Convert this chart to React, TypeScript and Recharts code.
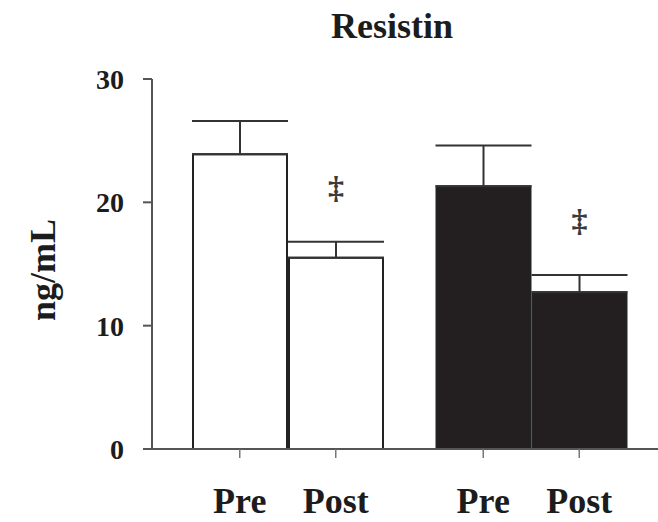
import React from 'react';
import {
  BarChart,
  Bar,
  XAxis,
  YAxis,
  ErrorBar,
  Cell,
  LabelList,
  Label,
} from 'recharts';

const groups = ['groupA', 'groupB'];
const phases = ['Pre', 'Post'];
const preMean = [23.9, 21.3];
const postMean = [15.5, 12.7];
const preSem = [2.7, 3.3];
const postSem = [1.3, 1.4];
const postMarks = ['‡', '‡'];
const groupFills = ['#ffffff', '#231f20'];
const yTicks = [0, 10, 20, 30];

const W = 658;
const H = 522;
const X_AXIS_H = 30;
const MARGIN = { top: 79, right: 0, bottom: 43, left: 0 };
const BAR = 94;
const GAP = 2;
const FONT = '"Liberation Serif", "Times New Roman", serif';
const INK = '#1c1c1c';

const data = groups.map((g, i) => ({
  group: g,
  pre: preMean[i],
  post: postMean[i],
  preErr: [0, preSem[i]],
  postErr: [0, postSem[i]],
}));

const PhaseTick = ({ x }: any) => {
  const off = (BAR + GAP) / 2;
  const baseY = H - MARGIN.bottom - X_AXIS_H;
  return (
    <g>
      {phases.map((p, k) => {
        const cx = x + (k === 0 ? -off : off);
        return (
          <g key={p}>
            <line x1={cx} y1={baseY} x2={cx} y2={baseY + 9} stroke="#777" strokeWidth={1.5} />
            <text
              x={cx}
              y={baseY + 64}
              textAnchor="middle"
              fontFamily={FONT}
              fontWeight="bold"
              fontSize={36}
              fill={INK}
            >
              {p}
            </text>
          </g>
        );
      })}
    </g>
  );
};

const SigMark = ({ x, y, width, height, value, index }: any) => {
  const pxPerUnit = height / value;
  const errTop = y - postSem[index] * pxPerUnit;
  return (
    <text
      x={x + width / 2}
      y={errTop - 55}
      dy={11}
      textAnchor="middle"
      fontFamily={FONT}
      fontWeight="bold"
      fontSize={32}
      fill="#3a3a3a"
    >
      {postMarks[index]}
    </text>
  );
};

const YTitle = ({ viewBox }: any) => {
  const cx = 43;
  const cy = viewBox.y + viewBox.height / 2 + 6;
  return (
    <text
      x={cx}
      y={cy}
      transform={`rotate(-90, ${cx}, ${cy})`}
      textAnchor="middle"
      dominantBaseline="central"
      fontFamily={FONT}
      fontWeight="bold"
      fontSize={36}
      fill={INK}
    >
      ng/mL
    </text>
  );
};

export default function App() {
  return (
    <div style={{ position: 'absolute', left: 0, top: 0, width: W, height: H, background: '#fff' }}>
      <div
        style={{
          position: 'absolute',
          left: 392,
          top: 6,
          transform: 'translateX(-50%)',
          fontFamily: FONT,
          fontWeight: 'bold',
          fontSize: 36,
          lineHeight: '40px',
          color: INK,
          whiteSpace: 'nowrap',
        }}
      >
        Resistin
      </div>
      <BarChart width={W} height={H} data={data} margin={MARGIN} barGap={GAP} barSize={BAR}>
        <XAxis
          dataKey="group"
          height={X_AXIS_H}
          padding={{ left: 14, right: 5 }}
          axisLine={{ stroke: '#555', strokeWidth: 2 }}
          tickLine={false}
          tick={<PhaseTick />}
          interval={0}
        />
        <YAxis
          width={152}
          domain={[0, 30]}
          ticks={yTicks}
          axisLine={{ stroke: '#555', strokeWidth: 2 }}
          tickLine={{ stroke: '#555', strokeWidth: 2 }}
          tickSize={9}
          tickMargin={19}
          tick={{ fontFamily: FONT, fontWeight: 'bold', fontSize: 28, fill: INK }}
        >
          <Label content={<YTitle />} />
        </YAxis>
        <Bar dataKey="pre" stroke="#222" strokeWidth={2} isAnimationActive={false}>
          {data.map((d, i) => (
            <Cell key={d.group} fill={groupFills[i]} />
          ))}
          <ErrorBar dataKey="preErr" direction="y" width={48} stroke="#333" strokeWidth={2} />
        </Bar>
        <Bar dataKey="post" stroke="#222" strokeWidth={2} isAnimationActive={false}>
          {data.map((d, i) => (
            <Cell key={d.group} fill={groupFills[i]} />
          ))}
          <ErrorBar dataKey="postErr" direction="y" width={48} stroke="#333" strokeWidth={2} />
          <LabelList dataKey="post" content={<SigMark />} />
        </Bar>
      </BarChart>
    </div>
  );
}
